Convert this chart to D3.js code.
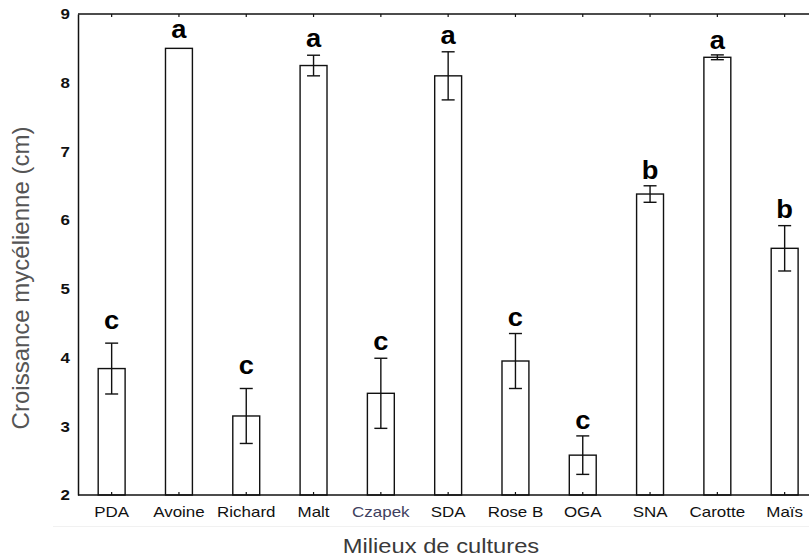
<!DOCTYPE html>
<html>
<head>
<meta charset="utf-8">
<script src="https://cdn.jsdelivr.net/npm/d3@7"></script>
<style>
  html, body { margin: 0; padding: 0; background: #fff; }
  svg { display: block; }
  text { font-family: "Liberation Sans", Arial, sans-serif; }
</style>
</head>
<body>
<svg id="chart" width="809" height="559"></svg>
<script>
// ---- data ----
const categories = ["PDA", "Avoine", "Richard", "Malt", "Czapek", "SDA", "Rose B", "OGA", "SNA", "Carotte", "Maïs"];
const means      = [3.84, 8.50, 3.15, 8.25, 3.48, 8.10, 3.95, 2.58, 6.38, 8.37, 5.59];
const errors     = [0.37, 0.00, 0.40, 0.15, 0.51, 0.35, 0.40, 0.28, 0.12, 0.035, 0.33];
const letters    = ["c", "a", "c", "a", "c", "a", "c", "c", "b", "a", "b"];
const yTicks     = [2, 3, 4, 5, 6, 7, 8, 9];
const yDomain    = [2, 9];
const xTitle     = "Milieux de cultures";
const yTitle     = "Croissance mycélienne (cm)";

// ---- layout ----
const W = 809, H = 559;
const mLeft = 78, mTop = 14, mBottom = 495;
const step = 67.3;
const mRight = mLeft + step * categories.length;
const SX = 1.13; // horizontal text stretch of the original image
const letterGap = [14, 10, 14, 8.5, 8, 8, 7.5, 7, 7, 5.5, 7.5]; // px between error cap and letter

const svg = d3.select("#chart");

const x = d3.scaleBand().domain(categories).range([mLeft, mRight]).paddingInner(0.6).paddingOuter(0.3);
const y = d3.scaleLinear().domain(yDomain).range([mBottom, mTop]);

const ink = "#111";

// faint separator line under labels
svg.append("line")
  .attr("x1", 53).attr("x2", W).attr("y1", 526.5).attr("y2", 526.5)
  .attr("stroke", "#f1f1f1").attr("stroke-width", 1);

const data = categories.map((c, i) => ({ c, m: means[i], e: errors[i], l: letters[i], g: letterGap[i] }));

// bars
svg.append("g").selectAll("rect").data(data).join("rect")
  .attr("x", d => x(d.c))
  .attr("y", d => y(d.m))
  .attr("width", x.bandwidth())
  .attr("height", d => y(yDomain[0]) - y(d.m))
  .attr("fill", "#fff")
  .attr("stroke", ink)
  .attr("stroke-width", 1.4);

// error bars
const eb = svg.append("g").attr("stroke", ink).attr("stroke-width", 1.4);
data.filter(d => d.e > 0).forEach(d => {
  const cx = x(d.c) + x.bandwidth() / 2;
  eb.append("line").attr("x1", cx).attr("x2", cx).attr("y1", y(d.m + d.e)).attr("y2", y(d.m - d.e));
  [d.m + d.e, d.m - d.e].forEach(v => {
    eb.append("line").attr("x1", cx - 6.5).attr("x2", cx + 6.5).attr("y1", y(v)).attr("y2", y(v));
  });
});

// significance letters
svg.append("g").selectAll("text").data(data).join("text")
  .attr("transform", d => `translate(${x(d.c) + x.bandwidth() / 2},${y(d.m + d.e) - d.g}) scale(1.05,1)`)
  .attr("text-anchor", "middle")
  .attr("font-size", 26)
  .attr("font-weight", "bold")
  .attr("fill", "#000")
  .text(d => d.l);

// axes frame: left, bottom, top
const xBottom = d3.axisBottom(x).tickSize(-3).tickSizeOuter(0).tickFormat(() => "");
const gxb = svg.append("g").attr("transform", `translate(0,${mBottom})`).call(xBottom);
const xTop = d3.axisTop(x).tickSize(-3).tickSizeOuter(0).tickFormat(() => "");
const gxt = svg.append("g").attr("transform", `translate(0,${mTop})`).call(xTop);
[gxb, gxt].forEach(g => {
  g.select(".domain").attr("stroke", ink).attr("stroke-width", 1.5).attr("d", `M${mLeft},0H${W}`);
  g.selectAll(".tick line").attr("stroke", ink).attr("stroke-width", 1.2);
});

const yAxis = d3.axisLeft(y).tickValues(yTicks).tickSize(0).tickFormat(d3.format("d"));
const gy = svg.append("g").attr("transform", `translate(${mLeft},0)`).call(yAxis);
gy.select(".domain").attr("stroke", ink).attr("stroke-width", 1.5);
gy.selectAll(".tick text").remove();

// y tick labels (stretched)
svg.append("g").selectAll("text").data(yTicks).join("text")
  .attr("transform", d => `translate(${mLeft - 8},${y(d)}) scale(${SX},1)`)
  .attr("text-anchor", "end")
  .attr("dy", "0.35em")
  .attr("font-size", 15)
  .attr("font-weight", "bold")
  .attr("fill", "#111")
  .text(d => d);

// x tick labels
svg.append("g").selectAll("text").data(categories).join("text")
  .attr("transform", d => `translate(${x(d) + x.bandwidth() / 2},517) scale(${SX},1)`)
  .attr("text-anchor", "middle")
  .attr("font-size", 15)
  .attr("fill", d => d === "Czapek" ? "#40405e" : "#111")
  .text(d => d);

// axis titles
svg.append("text")
  .attr("transform", `translate(441,553) scale(${SX},1)`)
  .attr("text-anchor", "middle")
  .attr("font-size", 21)
  .attr("fill", "#3a3a3a")
  .text(xTitle);

svg.append("text")
  .attr("transform", `translate(29,278) rotate(-90)`)
  .attr("text-anchor", "middle")
  .attr("font-size", 24)
  .attr("fill", "#555")
  .text(yTitle);
</script>
</body>
</html>
